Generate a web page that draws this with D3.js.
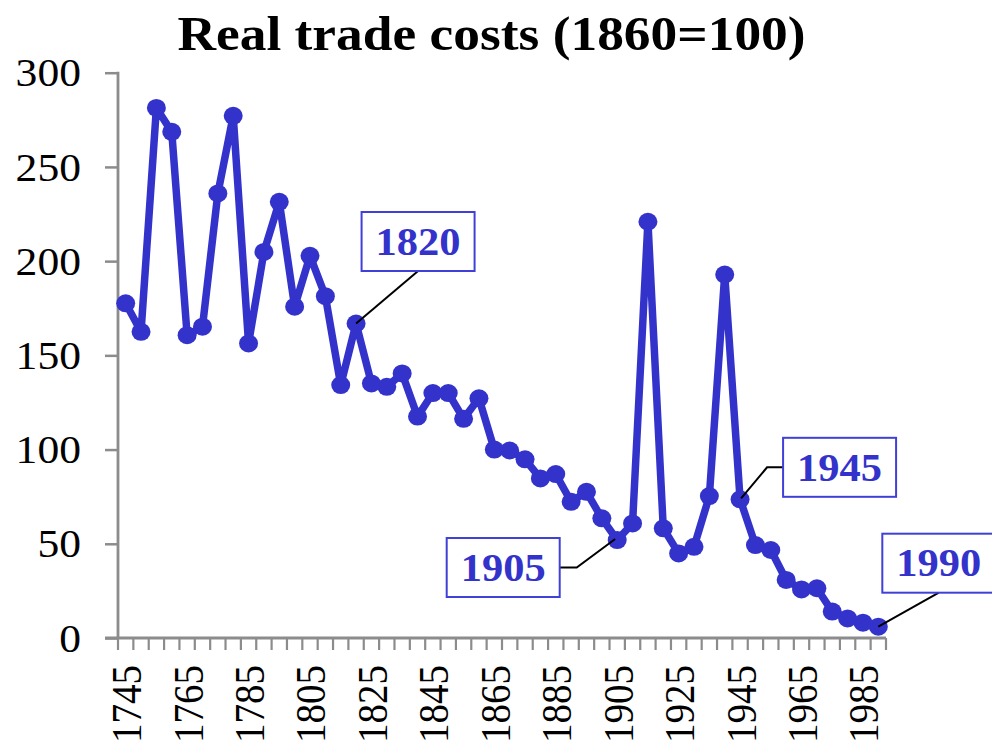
<!DOCTYPE html>
<html>
<head>
<meta charset="utf-8">
<script src="https://cdn.jsdelivr.net/npm/d3@7"></script>
<style>
  html, body { margin: 0; padding: 0; background: #fff; }
  svg { display: block; }
</style>
</head>
<body>
<svg id="chart" width="992" height="744"></svg>
<script>
// ---- data ----
const years = [1745,1750,1755,1760,1765,1770,1775,1780,1785,1790,
               1795,1800,1805,1810,1815,1820,1825,1830,1835,1840,
               1845,1850,1855,1860,1865,1870,1875,1880,1885,1890,
               1895,1900,1905,1910,1915,1920,1925,1930,1935,1940,
               1945,1950,1955,1960,1965,1970,1975,1980,1985,1990];
const costs = [177.6,162.5,281.3,268.6,160.7,165.2,235.9,277.1,156.3,204.9,
               231.5,175.8,202.8,181.4,134.2,166.9,135.1,133.3,140.4,117.5,
               130.0,130.0,116.3,127.2,100.0,99.5,94.8,84.7,87.0,72.3,
               77.6,63.5,52.0,60.8,220.9,58.2,44.9,48.4,75.3,192.9,
               73.6,49.3,46.7,30.8,25.8,26.4,14.0,10.4,8.1,6.0];
const yTicks = [0,50,100,150,200,250,300];
const xTickLabels = [1745,1765,1785,1805,1825,1845,1865,1885,1905,1925,1945,1965,1985];
const annotatedYears = [1820,1905,1945,1990];
const title = "Real trade costs (1860=100)";

// ---- layout ----
const svg = d3.select("#chart");
const plotLeft = 118, plotRight = 886, plotTop = 72.7, plotBottom = 638;
const SX = 1.09; // horizontal stretch of the original picture's text
const serif = "'Liberation Serif','Times New Roman',Times,serif";
const blue = "#3333cc";
const axisGrey = "#8c8c8c";

const x = d3.scaleBand().domain(years).range([plotLeft, plotRight]).padding(0);
const xc = d => x(d) + x.bandwidth() / 2;
const y = d3.scaleLinear().domain([0, 300]).range([plotBottom, plotTop]);

function stretchedText(g, px, py, str, opts) {
  const t = g.append("text")
    .attr("transform", `translate(${px},${py}) scale(${SX},1)` + (opts.rotate ? ` rotate(${opts.rotate})` : ""))
    .attr("x", 0).attr("y", 0)
    .attr("font-family", serif)
    .attr("font-size", opts.size)
    .attr("font-weight", opts.weight || "normal")
    .attr("fill", opts.fill || "#000")
    .attr("text-anchor", opts.anchor || "middle")
    .text(str);
  if (opts.dy) t.attr("dy", opts.dy);
  return t;
}

// ---- title ----
stretchedText(svg, 491.5, 50, title, {size: 49, weight: "bold"});

// ---- y axis ----
const yAxis = svg.append("g").attr("transform", `translate(${plotLeft},0)`)
  .call(d3.axisLeft(y).tickValues(yTicks).tickSize(13).tickFormat(""));
yAxis.select(".domain").remove();
yAxis.selectAll(".tick line").attr("stroke", axisGrey).attr("stroke-width", 2.5);
svg.append("line").attr("x1", plotLeft).attr("x2", plotLeft).attr("y1", y(300) - 1).attr("y2", plotBottom)
  .attr("stroke", axisGrey).attr("stroke-width", 2.8);
const yl = svg.append("g");
yTicks.forEach(v => stretchedText(yl, 81, y(v), String(v), {size: 40, anchor: "end", dy: "0.34em"}));

// ---- x axis ----
const xEdges = years.map(d => x(d)).concat([plotRight]);
svg.append("g").selectAll("line").data(xEdges).join("line")
  .attr("x1", d => d).attr("x2", d => d)
  .attr("y1", plotBottom).attr("y2", plotBottom + 12)
  .attr("stroke", axisGrey).attr("stroke-width", 2.2);
svg.append("line").attr("x1", plotLeft - 13).attr("x2", plotRight).attr("y1", plotBottom).attr("y2", plotBottom)
  .attr("stroke", axisGrey).attr("stroke-width", 2.8);
const xl = svg.append("g");
xTickLabels.forEach(yr => stretchedText(xl, xc(yr) + 1, 665, String(yr),
  {size: 39, anchor: "end", rotate: -90, dy: "0.34em"}));

// ---- series ----
const pts = years.map((yr, i) => ({yr, v: costs[i]}));
svg.append("path").datum(pts)
  .attr("fill", "none").attr("stroke", blue).attr("stroke-width", 7.5)
  .attr("stroke-linejoin", "round")
  .attr("d", d3.line().x(d => xc(d.yr)).y(d => y(d.v)));
svg.append("g").selectAll("ellipse").data(pts).join("ellipse")
  .attr("cx", d => xc(d.yr)).attr("cy", d => y(d.v))
  .attr("rx", 9.5).attr("ry", 9).attr("fill", blue);

// ---- annotations (box offsets relative to the labelled point) ----
const boxW = 113, boxH = 59;
const annoOffsets = {
  1820: {dx: 62,   dy: -82,  leader: "bottom"},
  1905: {dx: -114, dy: 27.5, leader: "right"},
  1945: {dx: 99.5, dy: -32,  leader: "left"},
  1990: {dx: 60.5, dy: -63.5, leader: "bottom"}
};
const ann = svg.append("g");
annotatedYears.forEach(yr => {
  const i = years.indexOf(yr);
  const px = xc(yr), py = y(costs[i]);
  const o = annoOffsets[yr];
  const cx = px + o.dx, cy = py + o.dy;
  let pathPts;
  if (o.leader === "bottom") pathPts = [[cx, cy + boxH / 2], [px, py]];
  else if (o.leader === "right") pathPts = [[cx + boxW / 2, cy], [cx + boxW / 2 + 17, cy], [px - 2, py - 1]];
  else pathPts = [[cx - boxW / 2, cy], [cx - boxW / 2 - 16, cy], [px + 1, py - 1]];
  ann.append("path").attr("d", d3.line()(pathPts))
    .attr("fill", "none").attr("stroke", "#000").attr("stroke-width", 2);
  ann.append("rect").attr("x", cx - boxW / 2).attr("y", cy - boxH / 2)
    .attr("width", boxW).attr("height", boxH)
    .attr("fill", "#fff").attr("stroke", "#4040d8").attr("stroke-width", 2);
  stretchedText(ann, cx, cy, String(yr), {size: 39, weight: "bold", fill: blue, dy: "0.34em"});
});
</script>
</body>
</html>
